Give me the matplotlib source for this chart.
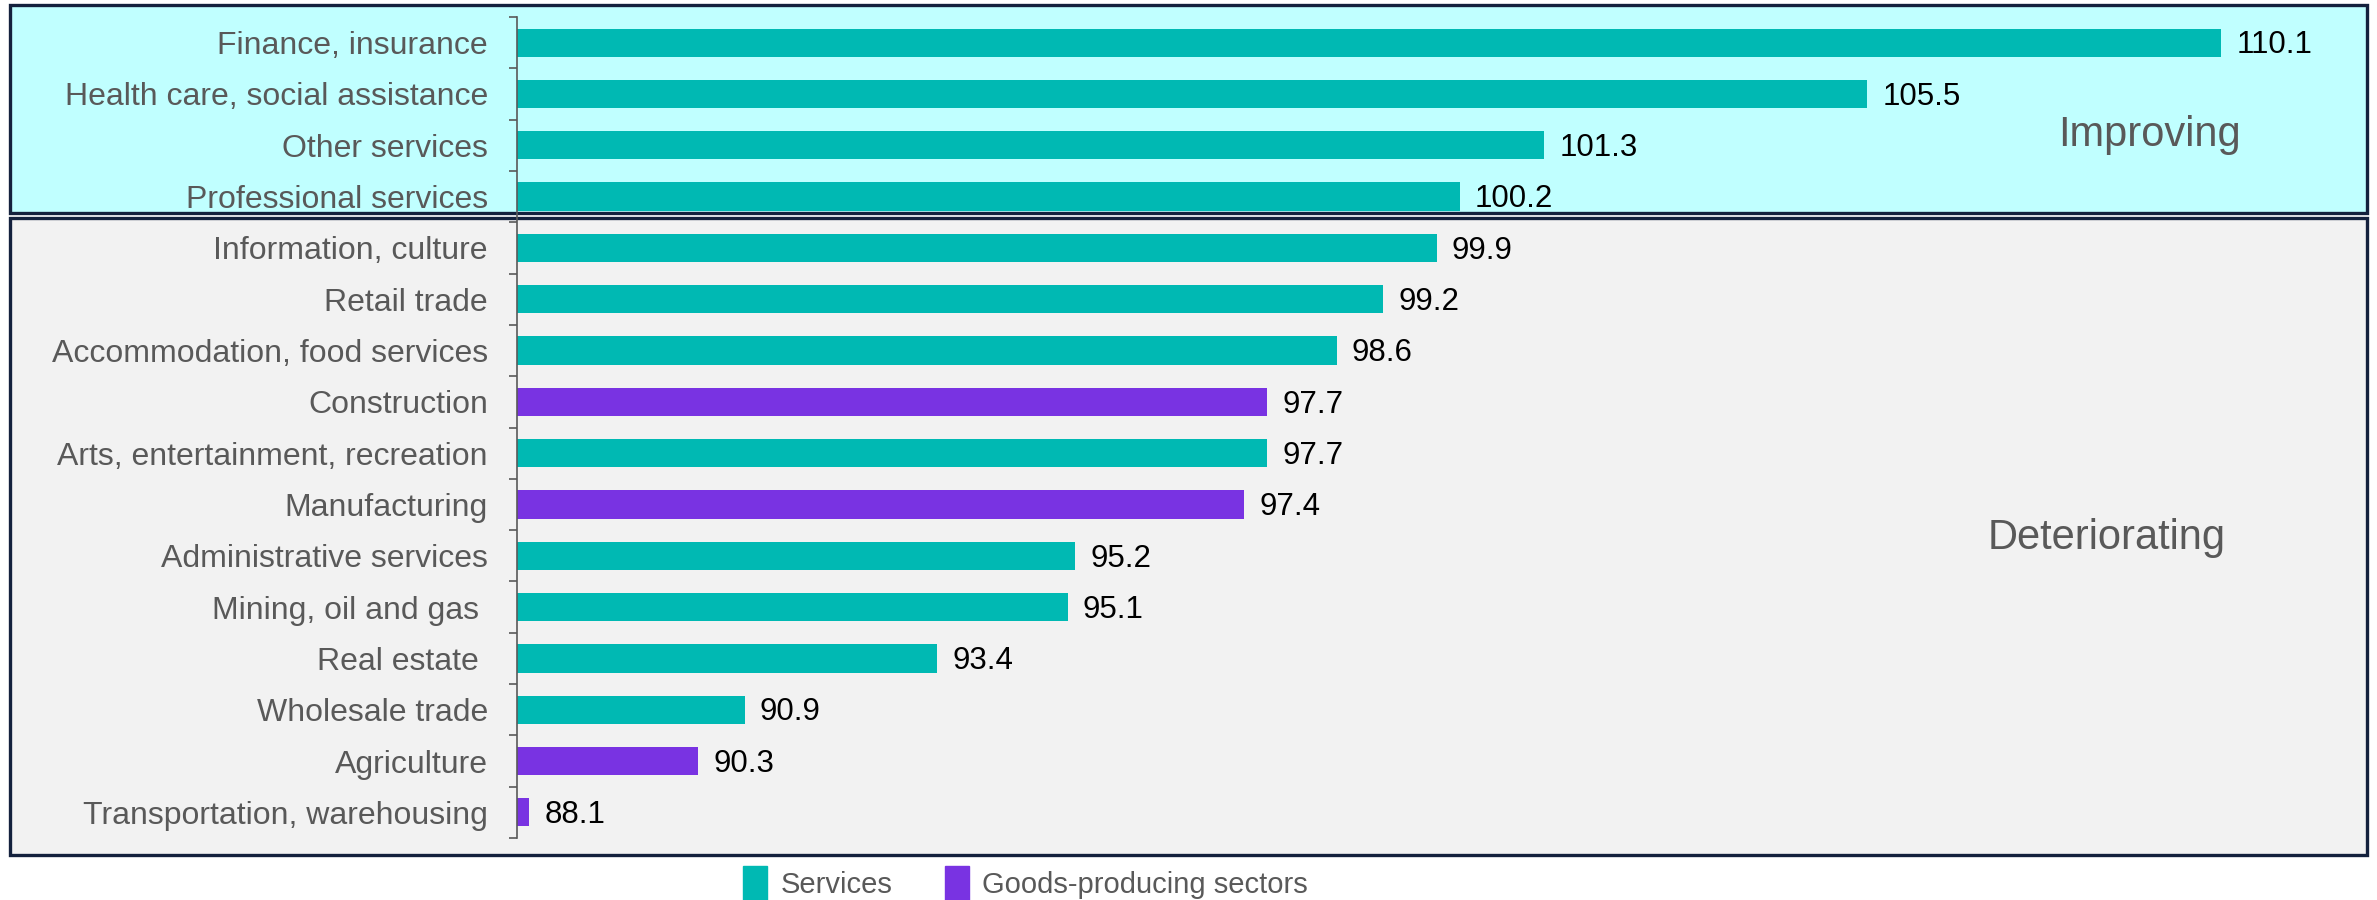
import matplotlib
matplotlib.use("Agg")
import matplotlib.pyplot as plt
from matplotlib.patches import Rectangle, Patch
import numpy as np

plt.rcParams['font.family'] = ['Liberation Sans', 'DejaVu Sans']

# sector index values, top to bottom
sectors = ["Finance, insurance", "Health care, social assistance", "Other services",
           "Professional services", "Information, culture", "Retail trade",
           "Accommodation, food services", "Construction", "Arts, entertainment, recreation",
           "Manufacturing", "Administrative services", "Mining, oil and gas ",
           "Real estate ", "Wholesale trade", "Agriculture", "Transportation, warehousing"]
values = [110.1, 105.5, 101.3, 100.2, 99.9, 99.2, 98.6, 97.7, 97.7, 97.4,
          95.2, 95.1, 93.4, 90.9, 90.3, 88.1]
group = ["S", "S", "S", "S", "S", "S", "S", "G", "S", "G", "S", "S", "S", "S", "G", "G"]

teal = "#00B9B3"
purple = "#7933E2"
txt = "#595959"
edge = "#14213D"

W, H = 2377, 900
fig = plt.figure(figsize=(W / 100, H / 100), dpi=100)

def box(x0, y0, x1, y1, fc):
    # pixel box (top-down) -> figure fraction
    r = Rectangle((x0 / W, 1 - y1 / H), (x1 - x0) / W, (y1 - y0) / H,
                  transform=fig.transFigure, facecolor=fc, edgecolor=edge,
                  linewidth=2.4, zorder=-1)
    fig.add_artist(r)

box(10, 5, 2367, 213, "#C0FFFF")
box(10, 218, 2367, 855, "#F2F2F2")

ax = fig.add_axes([517 / W, 1 - 838 / H, (2367 - 517) / W, (838 - 17) / H])
ax.set_facecolor("none")

y = np.arange(len(sectors))
colors = [teal if g == "S" else purple for g in group]
bars = ax.barh(y, [v - 87.94 for v in values], left=87.94, height=0.55, color=colors)
lbls = ax.bar_label(bars, labels=[f"{v:.1f}" for v in values], padding=11,
                    fontsize=22.5, color="black")
for t in lbls:
    t.xyann = (11, -2)

ax.set_xlim(87.94, 112.0)
ax.set_ylim(len(sectors) - 0.5, -0.5)
ax.set_yticks(y)
ax.set_yticklabels(sectors, fontsize=23, color=txt)
ax.set_yticks(np.arange(-0.5, len(sectors)), minor=True)
ax.tick_params(axis="y", which="major", length=0, pad=21)
ax.tick_params(axis="y", which="minor", length=6, width=1.2, color=txt)
ax.set_xticks([])
for s in ["top", "right", "bottom"]:
    ax.spines[s].set_visible(False)
ax.spines["left"].set_color(txt)
ax.spines["left"].set_linewidth(1.2)

fig.text(2149 / W, 1 - 135 / H, "Improving", fontsize=30, color=txt, ha="center", va="center")
fig.text(2107 / W, 1 - 538 / H, "Deteriorating", fontsize=30, color=txt, ha="center", va="center")

handles = [Patch(color=teal, label="Services"), Patch(color=purple, label="Goods-producing sectors")]
fig.legend(handles=handles, loc="upper left", bbox_to_anchor=(743 / W, 1 - 866 / H),
           ncol=2, frameon=False, fontsize=21, labelcolor=txt, borderpad=0,
           handlelength=0.83, handleheight=1.4, handletextpad=0.45, columnspacing=1.8,
           borderaxespad=0)

fig.savefig("out.png", dpi=100)
